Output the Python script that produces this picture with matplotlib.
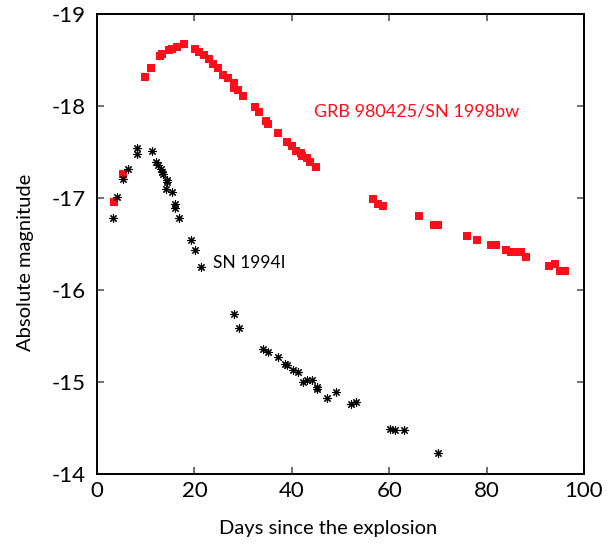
import matplotlib
matplotlib.use("Agg")
import matplotlib.pyplot as plt

plt.rcParams['font.family'] = ['Lato', 'DejaVu Sans']

# GRB 980425 / SN 1998bw (red squares)
bw_days = [3.4, 5.4, 9.9, 11.1, 12.9, 13.4, 14.8, 15.5, 16.4, 17.9,
           20.1, 20.9, 22.0, 22.9, 23.9, 24.8, 25.9, 27.0, 28.1, 28.1,
           29.0, 30.0, 32.5, 33.3, 34.7, 35.1, 37.2, 39.0, 40.0, 40.9,
           41.9, 42.0, 43.2, 43.8, 45.0,
           56.6, 57.7, 58.7, 66.1, 69.1, 70.1, 75.9, 78.0, 81.0, 81.9,
           83.9, 85.1, 86.2, 87.0, 88.1, 92.9, 94.0, 95.1, 96.1]
bw_mag = [-16.96, -17.26, -18.32, -18.41, -18.54, -18.57, -18.61, -18.62, -18.64, -18.67,
          -18.62, -18.59, -18.55, -18.51, -18.46, -18.41, -18.34, -18.30, -18.25, -18.20,
          -18.17, -18.11, -17.99, -17.93, -17.84, -17.80, -17.71, -17.61, -17.56, -17.51,
          -17.49, -17.46, -17.44, -17.39, -17.34,
          -16.99, -16.93, -16.91, -16.80, -16.71, -16.71, -16.59, -16.54, -16.49, -16.49,
          -16.43, -16.41, -16.41, -16.41, -16.36, -16.26, -16.28, -16.21, -16.21]

# SN 1994I (black asterisks)
i_days = [3.3, 4.2, 5.4, 6.3, 8.3, 8.3, 11.3, 12.2, 12.6, 13.1, 13.3, 13.5,
          14.3, 14.4, 14.2, 15.3, 16.1, 16.1, 16.9, 19.3, 20.1, 21.3,
          28.2, 29.2, 34.1, 35.2, 37.2, 38.6, 39.1, 40.3, 41.2, 42.2,
          43.2, 44.1, 45.1, 45.2, 47.2, 49.1, 52.2, 53.2, 60.2, 61.2,
          63.1, 70.0]
i_mag = [-16.78, -17.01, -17.21, -17.32, -17.54, -17.48, -17.51, -17.39, -17.36, -17.31, -17.28, -17.26,
         -17.20, -17.17, -17.10, -17.07, -16.93, -16.89, -16.78, -16.54, -16.43, -16.25,
         -15.74, -15.59, -15.36, -15.33, -15.27, -15.20, -15.18, -15.13, -15.11, -15.00,
         -15.02, -15.02, -14.95, -14.92, -14.83, -14.89, -14.76, -14.78, -14.49, -14.48,
         -14.48, -14.23]

x_ticks = [0, 20, 40, 60, 80, 100]
y_ticks = [-19, -18, -17, -16, -15, -14]

fig = plt.figure(figsize=(6.08, 5.45), dpi=100)
ax = fig.add_axes([97/608, 1-474/545, 487/608, 460/545])

ax.plot(i_days, i_mag, linestyle='none', marker=(8, 2, 0), markersize=6,
        markeredgewidth=0.8, color='black', zorder=3)
ax.plot(bw_days, bw_mag, linestyle='none', marker='s', markersize=5.6,
        color='#ff0d1a', markeredgewidth=0, zorder=2)

ax.set_xlim(0, 100)
ax.set_ylim(-14, -19)
ax.set_xticks(x_ticks)
ax.set_xticklabels([str(t) for t in x_ticks])
ax.set_yticks(y_ticks)
ax.set_yticklabels([str(t) for t in y_ticks])
ax.tick_params(direction='in', length=5, width=1.2, color='#555555',
               top=True, right=True, labelsize=16, pad=5)
ax.tick_params(axis='y', pad=8)
for s in ax.spines.values():
    s.set_linewidth(1.4)
    s.set_color('black')

ax.set_xlabel('Days since the explosion', fontsize=14.5)
ax.xaxis.set_label_coords(0.474, -0.1)
ax.set_ylabel('Absolute magnitude', fontsize=14.5)
ax.yaxis.set_label_coords(-0.13, 0.46)

ax.text(44.6, -17.94, 'GRB 980425/SN 1998bw', color='#ff0d1a', fontsize=13,
        va='center', ha='left')
ax.text(23.9, -16.29, 'SN 1994I', color='black', fontsize=12.5,
        va='center', ha='left')

fig.savefig('out.png', dpi=100)
